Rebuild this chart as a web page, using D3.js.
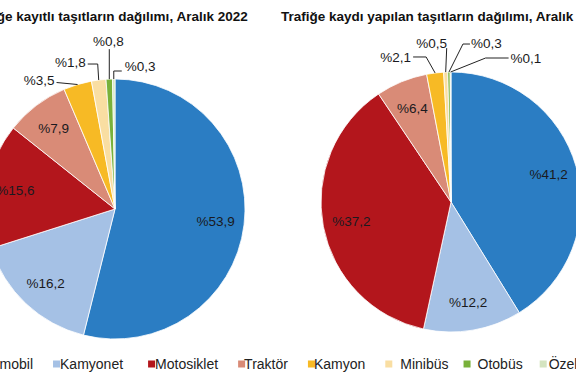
<!DOCTYPE html>
<html>
<head>
<meta charset="utf-8">
<script src="https://cdn.jsdelivr.net/npm/d3@7"></script>
<style>
  body { margin: 0; background: #fff; }
  svg { display: block; font-family: Arial, "Liberation Sans", sans-serif; }
</style>
</head>
<body>
<div id="chart"></div>
<script>
const categories = ['Otomobil', 'Kamyonet', 'Motosiklet', 'Traktör', 'Kamyon', 'Minibüs', 'Otobüs', 'Özel amaçlı'];
const registered = [53.9, 16.2, 15.6, 7.9, 3.5, 1.8, 0.8, 0.3];
const newlyRegistered = [41.2, 12.2, 37.2, 6.4, 2.1, 0.5, 0.3, 0.1];
const titles = [
    'Trafiğe kayıtlı taşıtların dağılımı, Aralık 2022',
    'Trafiğe kaydı yapılan taşıtların dağılımı, Aralık 2022'
];
const colors = ['#2b7dc3', '#a5c1e5', '#b3161c', '#d98b77', '#f7ba25', '#f9dea2', '#79b13a', '#d4e4c0'];

const width = 576;
const height = 380;
const radius = 130;
const insideMin = 5; // slices at or above this get their label inside

// callout leader lines for small slices, as offsets from the slice's outer edge
const calloutsLeft = {
    'Kamyon': { pts: [[0, 0], [-21, -2]], label: [-23, -4], anchor: 'end' },
    'Minibüs': { pts: [[0, 0], [-1, -16], [-11, -16]], label: [-13, -18], anchor: 'end' },
    'Otobüs': { pts: [[0, 0], [0, -30]], label: [-1, -38], anchor: 'middle' },
    'Özel amaçlı': { pts: [[0, 0], [0, -8], [8, -8]], label: [11, -13], anchor: 'start' }
};
const calloutsRight = {
    'Kamyon': { pts: [[0, 0], [-9, -16], [-22, -16]], label: [-24, -16], anchor: 'end' },
    'Minibüs': { pts: [[0, 0], [1, -24]], label: [-14, -29], anchor: 'middle' },
    'Otobüs': { pts: [[0, 0], [14, -28], [21, -28]], label: [22, -29], anchor: 'start' },
    'Özel amaçlı': { pts: [[0, 0], [35, -14], [58, -14]], label: [60, -14], anchor: 'start' }
};

const pies = [
    { values: registered, cx: 115, cy: 209, title: titles[0], callouts: calloutsLeft },
    { values: newlyRegistered, cx: 451, cy: 202, title: titles[1], callouts: calloutsRight }
];

const fmt = v => '%' + String(v).replace('.', ',');

const svg = d3.select('#chart')
    .append('svg')
    .attr('width', width)
    .attr('height', height);

const pie = d3.pie().sort(null).value(d => d.value);
const arc = d3.arc().innerRadius(0).outerRadius(radius);
const labelArc = d3.arc().innerRadius(radius * 0.78).outerRadius(radius * 0.78);

pies.forEach(p => {
    svg.append('text')
        .attr('x', p.cx - 7)
        .attr('y', 21)
        .attr('text-anchor', 'middle')
        .attr('font-size', '13.5px')
        .attr('font-weight', 'bold')
        .attr('fill', '#111')
        .text(p.title);

    const data = pie(categories.map((c, i) => ({ name: c, value: p.values[i], color: colors[i] })));

    const g = svg.append('g')
        .attr('transform', 'translate(' + p.cx + ',' + p.cy + ')');

    g.selectAll('path')
        .data(data)
        .enter()
        .append('path')
        .attr('d', arc)
        .attr('fill', d => d.data.color)
        .attr('stroke', '#fff')
        .attr('stroke-width', 0.8);

    // inside labels
    g.selectAll('text.inside')
        .data(data.filter(d => d.data.value >= insideMin))
        .enter()
        .append('text')
        .attr('class', 'inside')
        .attr('transform', d => 'translate(' + labelArc.centroid(d) + ')')
        .attr('text-anchor', 'middle')
        .attr('dy', '0.35em')
        .attr('font-size', '13.5px')
        .attr('fill', '#1a1a20')
        .text(d => fmt(d.data.value));

    // outside callouts
    const small = data.filter(d => d.data.value < insideMin);
    small.forEach(d => {
        const c = p.callouts[d.data.name];
        const mid = (d.startAngle + d.endAngle) / 2;
        const ex = radius * Math.sin(mid);
        const ey = -radius * Math.cos(mid);
        g.append('path')
            .attr('d', d3.line()(c.pts.map(q => [ex + q[0], ey + q[1]])))
            .attr('fill', 'none')
            .attr('stroke', '#222')
            .attr('stroke-width', 1);
        g.append('text')
            .attr('x', ex + c.label[0])
            .attr('y', ey + c.label[1])
            .attr('dy', '0.35em')
            .attr('text-anchor', c.anchor)
            .attr('font-size', '13.5px')
            .attr('fill', '#1a1a20')
            .text(fmt(d.data.value));
    });
});

// legend
const legendTextOffset = [7, 7, 7, 6, 6, 15, 14, 9];
const legendGap = [20, 25, 20, 20, 20, 15, 17, 20];
const legend = svg.append('g').attr('transform', 'translate(-30,364)');
let lx = 0;
categories.forEach((c, i) => {
    legend.append('rect')
        .attr('x', lx)
        .attr('y', -3.5)
        .attr('width', 7)
        .attr('height', 7)
        .attr('fill', colors[i]);
    const t = legend.append('text')
        .attr('x', lx + legendTextOffset[i])
        .attr('dy', '0.35em')
        .attr('font-size', '14px')
        .attr('fill', '#222')
        .text(c);
    lx += legendTextOffset[i] + t.node().getComputedTextLength() + legendGap[i];
});
</script>
</body>
</html>
